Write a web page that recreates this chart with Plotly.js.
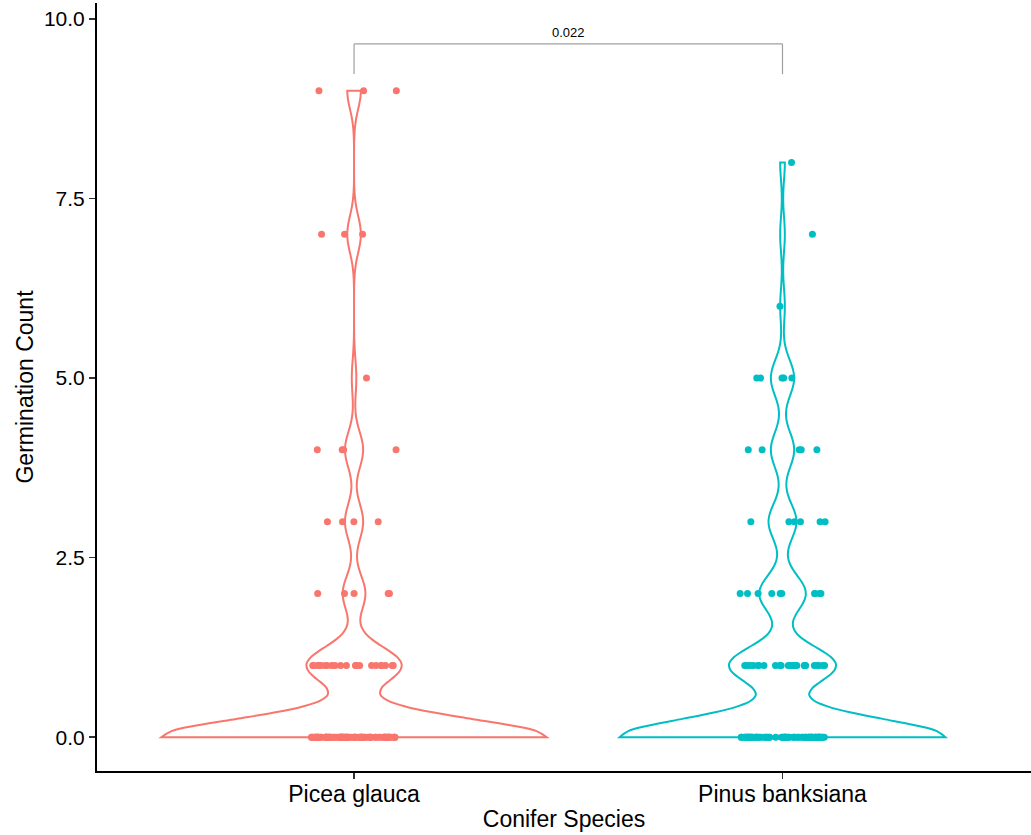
<!DOCTYPE html>
<html>
<head>
<meta charset="utf-8">
<script src="https://cdn.plot.ly/plotly-3.0.1.min.js"></script>
<style>
  html, body { margin: 0; padding: 0; background: #ffffff; }
  #chart { width: 1031px; height: 835px; }
</style>
</head>
<body>
<div id="chart"></div>
<script>
// Germination counts per conifer species: each distinct count and how many seed lots gave it
const species = ["Picea glauca", "Pinus banksiana"];
const piceaCounts = [0, 1, 2, 3, 4, 5, 7, 9];
const piceaFreq   = [85, 21, 5, 4, 4, 1, 3, 3];
const pinusCounts = [0, 1, 2, 3, 4, 5, 6, 7, 8];
const pinusFreq   = [70, 23, 10, 6, 5, 5, 1, 1, 1];
const pValueLabel = "0.022";
const yTicks = [0, 2.5, 5, 7.5, 10];

const colours = ["#F8766D", "#00BFC4"];
const violinWidth = 0.9;   // widest violin, in category units
const jitterHalf = 0.1;    // horizontal jitter of the raw points

// expand (value, frequency) pairs into one observation per seed lot
function expand(values, freq) {
  const out = [];
  values.forEach((v, i) => { for (let k = 0; k < freq[i]; k++) out.push(v); });
  return out;
}

// R-style type-7 quantile
function quantile(sorted, p) {
  const h = (sorted.length - 1) * p;
  const lo = Math.floor(h), hi = Math.ceil(h);
  return sorted[lo] + (h - lo) * (sorted[hi] - sorted[lo]);
}

// Silverman's rule of thumb as used by R's bw.nrd0
function bwNrd0(x) {
  const n = x.length;
  const mean = x.reduce((a, b) => a + b, 0) / n;
  const sd = Math.sqrt(x.reduce((a, b) => a + (b - mean) * (b - mean), 0) / (n - 1));
  const s = x.slice().sort((a, b) => a - b);
  const iqr = quantile(s, 0.75) - quantile(s, 0.25);
  let lo = Math.min(sd, iqr / 1.34);
  if (!(lo > 0)) lo = sd || Math.abs(s[0]) || 1;
  return 0.9 * lo * Math.pow(n, -0.2);
}

// highest point of the gaussian kernel density over the data span
function peakDensity(x, bw) {
  const lo = Math.min(...x), hi = Math.max(...x);
  let best = 0;
  for (let k = 0; k <= 400; k++) {
    const t = lo + (hi - lo) * k / 400;
    let d = 0;
    for (const v of x) { const z = (t - v) / bw; d += Math.exp(-0.5 * z * z); }
    d /= x.length * bw * Math.sqrt(2 * Math.PI);
    if (d > best) best = d;
  }
  return best;
}

// small seeded generator so the jittered points land in the same place every time
function mulberry32(seed) {
  return function () {
    seed |= 0; seed = seed + 0x6D2B79F5 | 0;
    let t = Math.imul(seed ^ seed >>> 15, 1 | seed);
    t = t + Math.imul(t ^ t >>> 7, 61 | t) ^ t;
    return ((t ^ t >>> 14) >>> 0) / 4294967296;
  };
}

const samples = [expand(piceaCounts, piceaFreq), expand(pinusCounts, pinusFreq)];
const bandwidths = samples.map(bwNrd0);
const peaks = samples.map((ys, i) => peakDensity(ys, bandwidths[i]));
const maxPeak = Math.max(...peaks);

// equal-area violins: width proportional to each group's density peak
const violins = samples.map((ys, i) => ({
  type: "violin",
  name: species[i],
  x: ys.map(() => i),
  y: ys,
  bandwidth: bandwidths[i],
  spanmode: "hard",
  scalegroup: "g" + i,
  scalemode: "width",
  width: violinWidth * peaks[i] / maxPeak,
  line: { color: colours[i], width: 2 },
  fillcolor: "rgba(0,0,0,0)",
  box: { visible: false },
  meanline: { visible: false },
  points: false,
  hoverinfo: "y",
  showlegend: false
}));

const rand = mulberry32(20240611);
const jittered = samples.map((ys, i) => ({
  type: "scatter",
  mode: "markers",
  x: ys.map(() => i + (rand() * 2 - 1) * jitterHalf),
  y: ys,
  marker: { color: colours[i], size: 7, line: { width: 0 } },
  hoverinfo: "y",
  showlegend: false
}));

const bracketTop = 9.65, bracketFoot = 9.23;
const bracketStyle = { color: "#a0a0a0", width: 1.2 };

const layout = {
  width: 1031,
  height: 835,
  margin: { l: 97, r: 0, t: 3, b: 64 },
  paper_bgcolor: "#ffffff",
  plot_bgcolor: "#ffffff",
  showlegend: false,
  violinmode: "overlay",
  font: { family: "Liberation Sans, Arial, sans-serif", color: "#000000" },
  xaxis: {
    range: [-0.6, 1.58],
    tickvals: [0, 1],
    ticktext: species,
    showgrid: false,
    zeroline: false,
    showline: true,
    linecolor: "#000000",
    linewidth: 2,
    ticks: "outside",
    ticklen: 6,
    tickwidth: 1.5,
    tickcolor: "#333333",
    ticklabelstandoff: -5,
    tickfont: { size: 23, color: "#000000" },
    title: { text: "Conifer Species", font: { size: 23, color: "#000000" }, standoff: 5 },
    automargin: false
  },
  yaxis: {
    range: [-0.47, 10.22],
    tickvals: yTicks,
    tickformat: ".1f",
    showgrid: false,
    zeroline: false,
    showline: true,
    linecolor: "#000000",
    linewidth: 2,
    ticks: "outside",
    ticklen: 6,
    tickwidth: 1.5,
    tickcolor: "#333333",
    tickfont: { size: 21, color: "#000000" },
    title: { text: "Germination Count", font: { size: 23, color: "#000000" }, standoff: 4 },
    automargin: false
  },
  shapes: [
    { type: "line", xref: "x", yref: "y", x0: 0, x1: 0, y0: bracketFoot, y1: bracketTop, line: bracketStyle },
    { type: "line", xref: "x", yref: "y", x0: 0, x1: 1, y0: bracketTop, y1: bracketTop, line: bracketStyle },
    { type: "line", xref: "x", yref: "y", x0: 1, x1: 1, y0: bracketFoot, y1: bracketTop, line: bracketStyle }
  ],
  annotations: [
    {
      xref: "x", yref: "y",
      x: 0.5, y: bracketTop,
      text: pValueLabel,
      showarrow: false,
      yanchor: "bottom",
      yshift: 2,
      font: { size: 13, color: "#000000" }
    }
  ]
};

Plotly.newPlot("chart", violins.concat(jittered), layout, { displayModeBar: false, staticPlot: true });
</script>
</body>
</html>
